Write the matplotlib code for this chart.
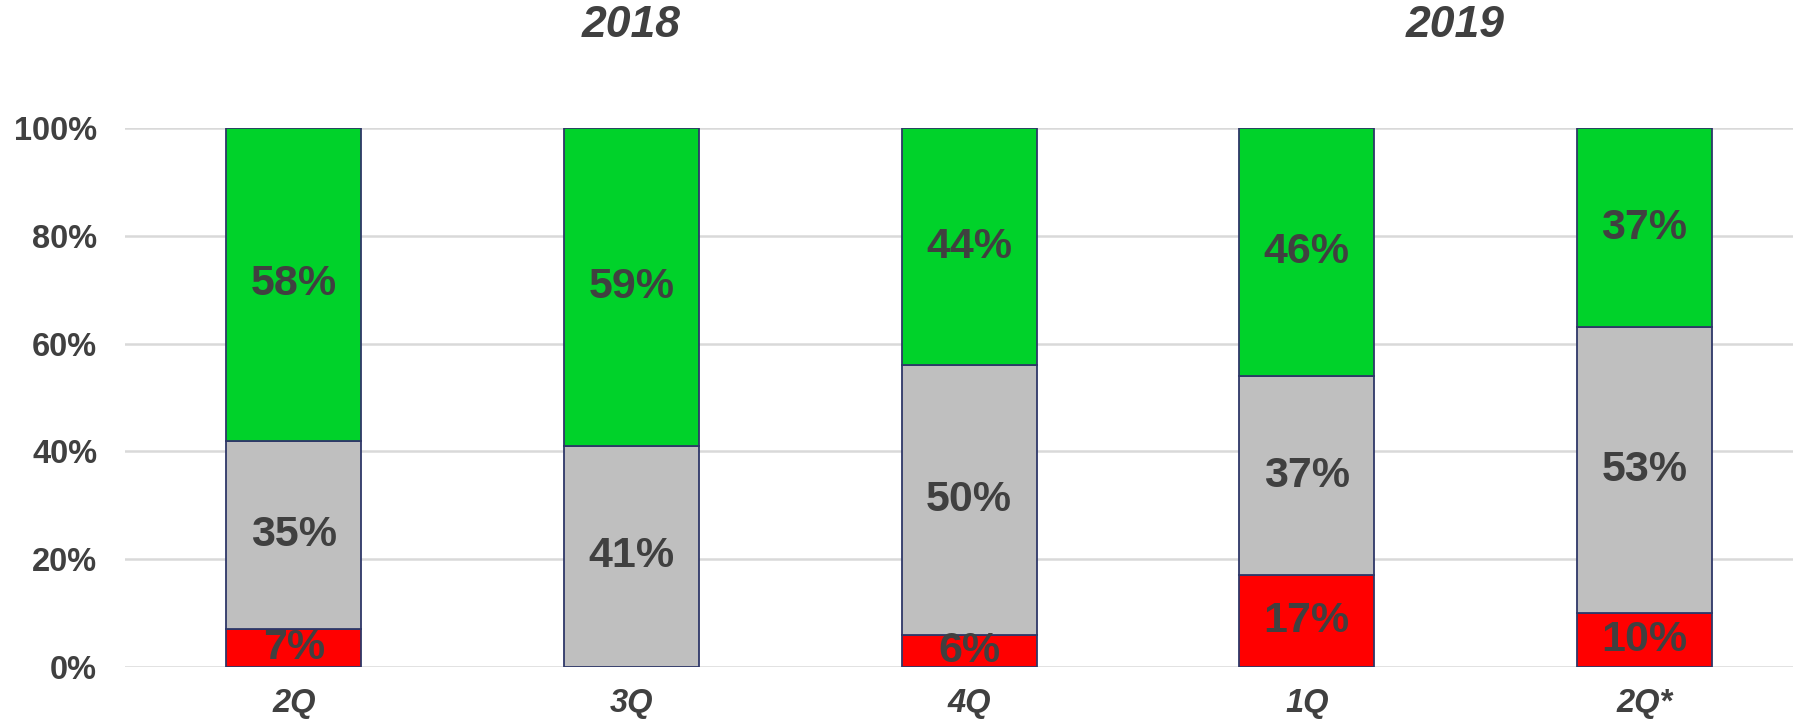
import numpy as np
import matplotlib
matplotlib.use("Agg")
import matplotlib.pyplot as plt

# 資料
quarters = ["2Q", "3Q", "4Q", "1Q", "2Q*"]
red_vals = [7, 0, 6, 17, 10]
gray_vals = [35, 41, 50, 37, 53]
green_vals = [58, 59, 44, 46, 37]
years = ["2018", "2019"]
y_ticks = [0, 20, 40, 60, 80, 100]

TXT = "#404040"
plt.rcParams["font.family"] = ["Liberation Sans", "DejaVu Sans"]

fig = plt.figure(figsize=(17.93, 7.21), dpi=100)
ax = fig.add_axes([0.0697, 0.0749, 0.9303, 0.7476])

x = np.arange(len(quarters))
w = 0.4
edge = "#2E3768"

bottom = np.zeros(len(quarters))
for vals, color in [(red_vals, "#FF0000"), (gray_vals, "#BFBFBF"), (green_vals, "#00D22A")]:
    vals = np.array(vals, dtype=float)
    ax.bar(x, vals, w, bottom=bottom, color=color, edgecolor=edge, linewidth=1.3, zorder=3)
    for xi, b, v in zip(x, bottom, vals):
        if v > 0:
            ax.text(xi, b + v / 2, f"{int(v)}%", ha="center", va="center",
                    fontsize=31, fontweight="bold", color=TXT, zorder=4)
    bottom += vals

ax.set_xlim(-0.5, 4.44)
ax.set_ylim(0, 100)
ax.set_yticks(y_ticks)
ax.set_yticklabels([f"{t}%" for t in y_ticks], fontsize=23.5, fontweight="bold", color=TXT)
ax.set_xticks(x)
ax.set_xticklabels(quarters, fontsize=23.5, fontweight="bold", style="italic", color=TXT)
ax.tick_params(length=0)
ax.tick_params(axis="y", pad=20)
ax.tick_params(axis="x", pad=15)
ax.grid(axis="y", color="#D9D9D9", linewidth=1.8, zorder=0)
for s in ax.spines.values():
    s.set_visible(False)

# 年份標題
ax.text(1, 1.19, years[0], transform=ax.get_xaxis_transform(), ha="center", va="center",
        fontsize=32, fontweight="bold", style="italic", color=TXT)
ax.text(3.44, 1.19, years[1], transform=ax.get_xaxis_transform(), ha="center", va="center",
        fontsize=32, fontweight="bold", style="italic", color=TXT)

fig.savefig("out.png", dpi=100)
